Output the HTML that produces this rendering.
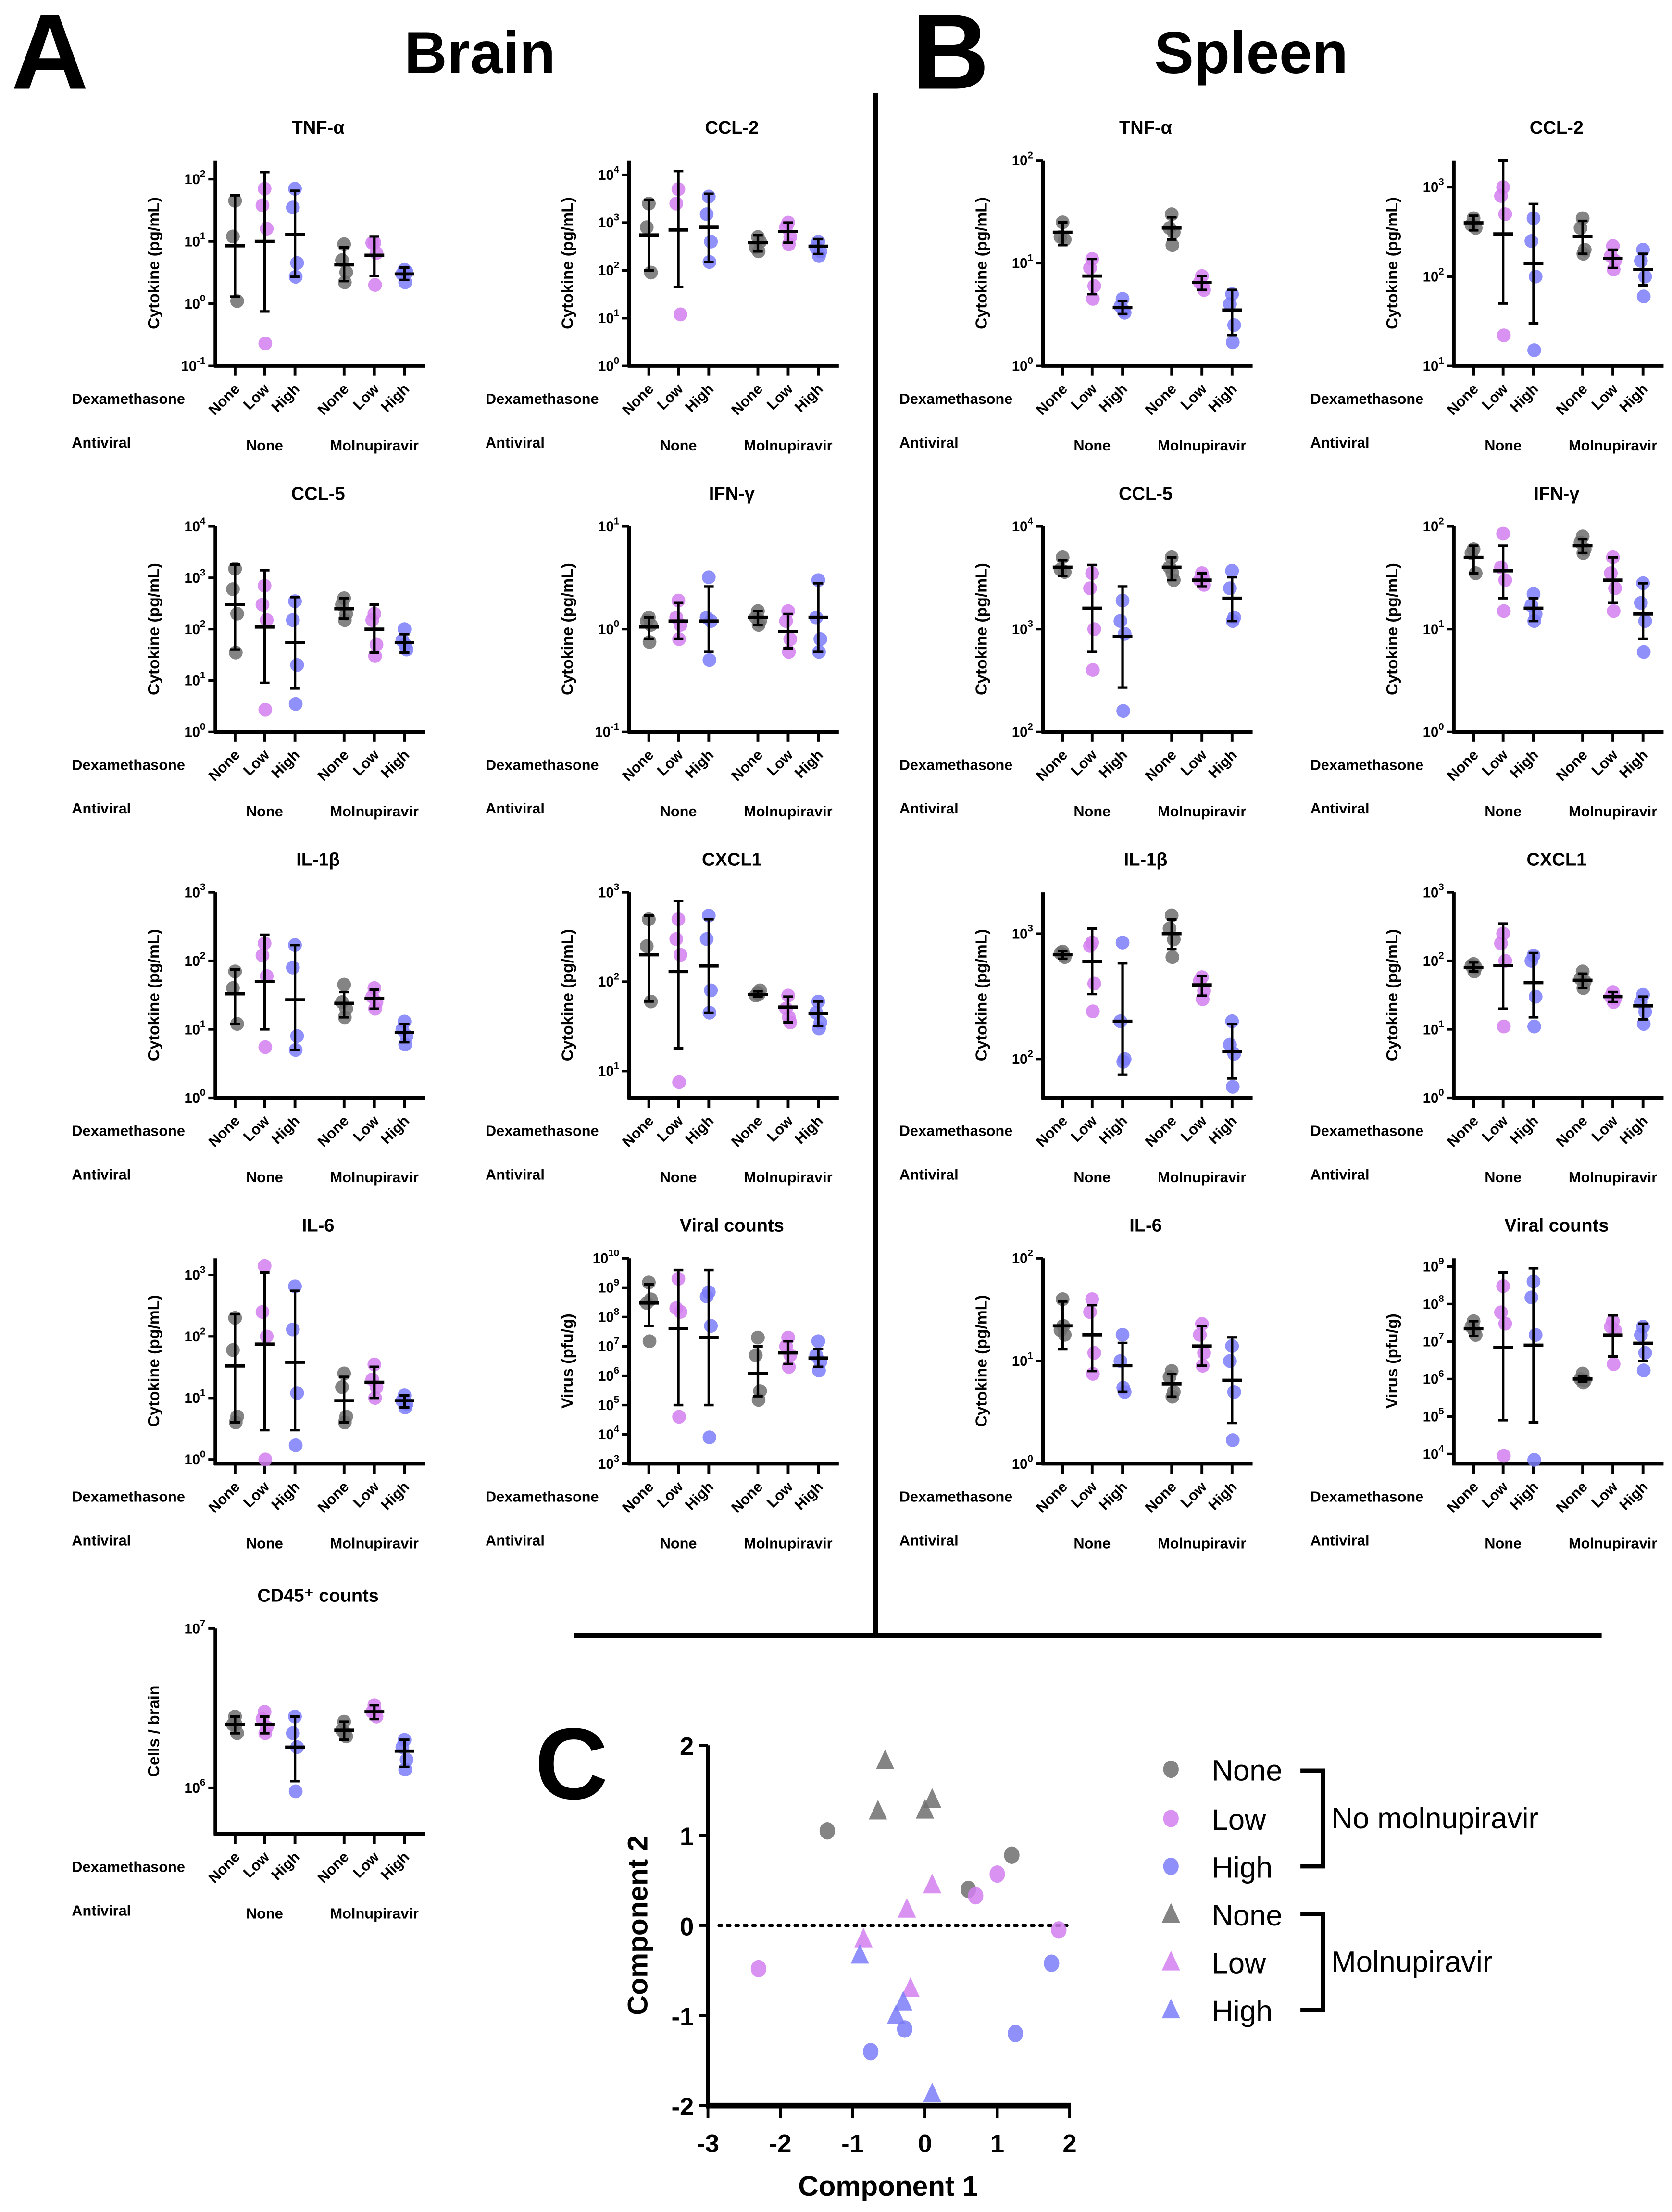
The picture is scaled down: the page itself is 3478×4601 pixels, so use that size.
<!DOCTYPE html>
<html><head><meta charset="utf-8"><style>
html,body{margin:0;padding:0;background:#fff;}
svg{display:block;font-family:"Liberation Sans",Arial,sans-serif;}
</style></head><body>
<svg id="fig" xmlns="http://www.w3.org/2000/svg" width="3478" height="4601" viewBox="0 0 1188 1571.6" preserveAspectRatio="none">
<rect width="1188" height="1571.6" fill="#fff"/>
<text x="8" y="63" font-size="76" font-weight="bold">A</text>
<text x="341" y="52" font-size="42" font-weight="bold" text-anchor="middle">Brain</text>
<text x="648" y="63" font-size="76" font-weight="bold">B</text>
<text x="889" y="52" font-size="42" font-weight="bold" text-anchor="middle">Spleen</text>
<line x1="622" y1="66" x2="622" y2="1163" stroke="#000" stroke-width="4"/>
<line x1="408" y1="1162" x2="1138" y2="1162" stroke="#000" stroke-width="4"/>
<text x="380" y="1278" font-size="72" font-weight="bold">C</text>
<g id="panels"></g>
<g id="pca"></g>
</svg>
<script>
const NS="http://www.w3.org/2000/svg";
// ---- Panel data (values in original units) ----
const panelTitles=["TNF-α","CCL-2","CCL-5","IFN-γ","IL-1β","CXCL1","IL-6","Viral counts","CD45⁺ counts",
"TNF-α","CCL-2","CCL-5","IFN-γ","IL-1β","CXCL1","IL-6","Viral counts"];
const panelYTitles=["Cytokine (pg/mL)","Cytokine (pg/mL)","Cytokine (pg/mL)","Cytokine (pg/mL)","Cytokine (pg/mL)","Cytokine (pg/mL)","Cytokine (pg/mL)","Virus (pfu/g)","Cells / brain",
"Cytokine (pg/mL)","Cytokine (pg/mL)","Cytokine (pg/mL)","Cytokine (pg/mL)","Cytokine (pg/mL)","Cytokine (pg/mL)","Cytokine (pg/mL)","Virus (pfu/g)"];
const panelLo=[-1,0,0,-1,0,0.7,-0.07,3,5.71, 0,1,2,0,1.69,0,0,3.74];
const panelHi=[2.3,4.3,4,1,3,3,3.27,10,7, 2,3.3,4,2,3.33,3,2,9.22];
const panelTicks=[[-1,0,1,2],[0,1,2,3,4],[0,1,2,3,4],[-1,0,1],[0,1,2,3],[1,2,3],[0,1,2,3],[3,4,5,6,7,8,9,10],[6,7],
[0,1,2],[1,2,3],[2,3,4],[0,1,2],[2,3],[0,1,2,3],[0,1,2],[4,5,6,7,8,9]];
const categories=["None","Low","High","None","Low","High"];
const points=[
[[45,12,1.1],[70,38,16,0.23],[70,35,4.5,2.7],[9,5,3.2,2.2],[9.5,9.5,6.5,2],[3.5,3,3.2,2.2]],
[[2500,800,90],[5000,2500,12],[3500,1500,400,150],[500,300,400,250],[1000,800,500,350],[400,300,250,200]],
[[1500,600,200,35],[700,300,150,2.7],[350,150,20,3.5],[400,300,200,150],[200,150,50,30],[100,60,40,50]],
[[1.3,1.2,1.1,0.75],[1.9,1.3,1.1,0.8],[3.2,1.3,1.2,0.5],[1.5,1.3,1.2,1.1],[1.5,1.2,0.8,0.6],[3,1.3,0.8,0.6]],
[[70,40,12],[180,120,60,5.5],[170,80,8,5],[45,25,20,15],[40,30,25,20],[13,10,8,6]],
[[500,250,60],[500,300,200,7.5],[550,300,80,45],[75,70,80,72],[70,50,35,40],[60,45,35,30]],
[[200,60,5,4],[1400,250,100,1],[650,130,12,1.7],[25,15,5,4],[35,20,15,10],[11,9,8,7]],
[[1.5e9,3e8,4e8,1.5e7],[2e9,2e8,1.5e8,4e4],[7e8,5e8,5e7,8e3],[2e7,5e6,3e5,1.5e5],[2e7,1e7,5e6,2e6],[1.5e7,5e6,3e6,1.5e6]],
[[2.8e6,2.5e6,2.2e6,2.5e6],[3e6,2.7e6,2.4e6,2.2e6],[2.8e6,2.2e6,1.8e6,0.95e6],[2.6e6,2.3e6,2.1e6,2.2e6],[3.3e6,3e6,2.8e6,3e6],[2e6,1.8e6,1.5e6,1.3e6]],
[[25,18,17],[11,9,6,4.5],[4.5,3.8,3.3,3.5],[30,22,20,15],[7.5,6.5,5.5,6],[5,4,2.5,1.7]],
[[450,380,350],[1000,800,500,22],[450,250,100,15],[450,350,200,180],[220,170,150,120],[200,150,100,60]],
[[5000,3800,3600],[3500,2500,1000,400],[1900,1200,900,160],[5000,4000,3000,3500],[3500,3000,2700,3200],[3700,2500,1300,1200]],
[[60,55,35],[85,40,30,15],[22,17,14,12],[80,70,60,55],[50,35,25,15],[28,18,12,6]],
[[720,700,650,680],[850,800,400,240],[850,200,100,95],[1400,1100,900,650],[450,420,350,300],[200,130,110,60]],
[[90,85,80,70],[250,180,100,11],[120,100,30,11],[70,55,50,40],[35,30,28,25],[32,25,18,12]],
[[40,20,18,22],[40,30,12,7.5],[18,10,5,5.5],[8,7,5,4.5],[23,18,12,9],[14,10,5,1.7]],
[[3.5e7,2.5e7,1.5e7,2e7],[3e8,6e7,3e7,9e3],[4e8,1.5e8,1.5e7,7e3],[1.4e6,1e6,9e5,8e5],[3.5e7,2.5e7,2e7,2.5e6],[2.5e7,1.5e7,5e6,1.7e6]]
];
const means=[
[8.5,10,13,4.2,6,3],[550,700,800,380,650,320],[300,110,55,250,100,55],[1.05,1.2,1.2,1.3,0.95,1.3],
[33,50,27,24,28,9],[200,130,150,72,52,44],[33,75,38,9,18,9],[3e8,4e7,2e7,1.2e6,6e6,4e6],
[2.5e6,2.5e6,1.8e6,2.3e6,3e6,1.7e6],
[20,7.5,3.7,22,6.5,3.5],[400,300,140,280,160,120],[4000,1600,850,4000,3000,2000],[50,37,16,65,30,14],
[680,600,200,1000,390,115],[80,85,48,52,30,22],[22,18,9,6,14,6.5],[2.2e7,7e6,8e6,1e6,1.5e7,9e6]
];
const errLow=[
[1.3,0.75,2.7,2.3,2.8,2.4],[100,45,150,250,380,220],[40,9,7,160,35,35],[0.8,0.8,0.6,1.1,0.65,0.6],
[12,10,5,15,20,6.5],[60,18,45,68,35,32],[4,3,3,4,10,7],[5e7,1e5,1e5,2e5,2.5e6,2e6],
[2.2e6,2.2e6,1.1e6,2e6,2.7e6,1.35e6],
[15,5,3.2,17,5.5,2],[330,50,30,180,125,80],[3300,600,270,3000,2600,1200],[35,20,12,55,18,8],
[630,330,75,750,320,70],[70,20,15,40,25,14],[13,8,5,4.5,9,2.5],[1.4e7,8e4,7e4,8.5e5,4e6,3e6]
];
const errHigh=[
[55,130,65,8,12,3.8],[3000,12000,4000,550,1000,450],[1800,1400,420,400,300,80],[1.3,1.8,2.6,1.5,1.4,2.8],
[75,240,170,35,38,12],[550,800,500,78,68,60],[230,1100,550,22,32,11],[1.3e9,4e9,4e9,1e7,1.5e7,8e6],
[2.8e6,2.8e6,2.8e6,2.6e6,3.3e6,2e6],
[25,11,4.3,28,7.5,5.5],[480,2000,650,420,200,180],[4700,4200,2600,5000,3500,3200],[65,65,20,75,50,28],
[730,1100,580,1300,460,190],[95,350,130,65,35,30],[38,35,15,7.5,22,17],[3.5e7,7e8,9e8,1.2e6,5e7,3e7]
];
// ---- layout (styles/positions, not data) ----
const colX=[153,447,741,1033];
const rowY=[0,260,520,780,1043];
const panelPos=[[0,0],[1,0],[0,1],[1,1],[0,2],[1,2],[0,3],[1,3],[0,4],[2,0],[3,0],[2,1],[3,1],[2,2],[3,2],[2,3],[3,3]];
const catOff=[14,35,56.6,91.5,113,134.4];
const colors=["#6f6f6f","#d47ff0","#7b7cf8"];
const jit=[0,-1.5,1.5,0.5];
const P=document.getElementById('panels');
function mk(tag,attrs,parent){const e=document.createElementNS(NS,tag);for(const k in attrs)e.setAttribute(k,attrs[k]);(parent||P).appendChild(e);return e;}
const TOP=114,BOT=260;
panelTitles.forEach((title,p)=>{
  const ax=colX[panelPos[p][0]], oy=rowY[panelPos[p][1]];
  const lo=panelLo[p],hi=panelHi[p];
  const yS=v=>oy+BOT-(Math.log10(v)-lo)/(hi-lo)*(BOT-TOP);
  const yE=e=>oy+BOT-(e-lo)/(hi-lo)*(BOT-TOP);
  const g=mk('g',{});
  
  
  const t=mk('text',{x:ax+73,y:oy+95,'font-size':13,'font-weight':'bold','text-anchor':'middle'},g);t.textContent=title;
  
  
  const yt=mk('text',{transform:`translate(${ax-40},${oy+(TOP+BOT)/2}) rotate(-90)`,'font-size':11.5,'font-weight':'bold','text-anchor':'middle'},g);yt.textContent=panelYTitles[p];
  
  
  const ya=mk('line',{x1:ax,y1:oy+TOP,x2:ax,y2:oy+BOT+1,stroke:'#000','stroke-width':2.5},g);
  
  
  const xa=mk('line',{x1:ax-1,y1:oy+BOT,x2:ax+149,y2:oy+BOT,stroke:'#000','stroke-width':2.5},g);
  
  
  panelTicks[p].forEach(e=>{
    const y=yE(e);
    const tk=mk('line',{x1:ax-5,y1:y,x2:ax,y2:y,stroke:'#000','stroke-width':1.8},g);
    
    
    const tl=mk('text',{x:ax-7,y:y+3.5,'font-size':10,'font-weight':'bold','text-anchor':'end'},g);
    
    
    tl.innerHTML='10<tspan dy="-5" font-size="7">'+e+'</tspan>';
  });
  categories.forEach((c,i)=>{
    const cx=ax+catOff[i];
    const tk=mk('line',{x1:cx,y1:oy+BOT,x2:cx,y2:oy+BOT+7,stroke:'#000','stroke-width':2},g);
    
    
    const cl=mk('text',{transform:`translate(${cx+4},${oy+BOT+17}) rotate(-45)`,'font-size':10.5,'font-weight':'bold','text-anchor':'end'},g);cl.textContent=c;
    
    
    points[p][i].forEach((v,k)=>{
      const d=mk('circle',{cx:cx+jit[k],cy:yS(v),r:4.9,fill:colors[i%3],'fill-opacity':0.85},g);
      
      
    });
    const eb=mk('path',{d:`M${cx},${yS(errLow[p][i])}V${yS(errHigh[p][i])}M${cx-3.5},${yS(errLow[p][i])}H${cx+3.5}M${cx-3.5},${yS(errHigh[p][i])}H${cx+3.5}`,stroke:'#000','stroke-width':1.8,fill:'none'},g);
    
    
    const mb=mk('line',{x1:cx-7,y1:yS(means[p][i]),x2:cx+7,y2:yS(means[p][i]),stroke:'#000','stroke-width':2.3},g);
    
    
  });
  const dx=mk('text',{x:ax-102,y:oy+BOT+27,'font-size':10.5,'font-weight':'bold'},g);dx.textContent='Dexamethasone';
  
  
  const av=mk('text',{x:ax-102,y:oy+BOT+58,'font-size':10.5,'font-weight':'bold'},g);av.textContent='Antiviral';
  
  
  const an=mk('text',{x:ax+catOff[1],y:oy+BOT+60,'font-size':10.5,'font-weight':'bold','text-anchor':'middle'},g);an.textContent='None';
  
  
  const am=mk('text',{x:ax+catOff[4],y:oy+BOT+60,'font-size':10.5,'font-weight':'bold','text-anchor':'middle'},g);am.textContent='Molnupiravir';
  
  
});

// ---- PCA scatter ----
const pcaX=[-1.35,0.6,1.2,-2.3,0.7,1.0,1.85,-0.75,-0.28,1.25,1.75,-0.55,-0.65,0,0.1,-0.85,-0.25,-0.2,0.1,-0.9,-0.3,-0.4,0.1];
const pcaY=[1.05,0.4,0.78,-0.48,0.33,0.57,-0.05,-1.4,-1.15,-1.2,-0.42,1.83,1.27,1.28,1.4,-0.15,0.18,-0.7,0.45,-0.33,-0.85,-1.0,-1.87];
const pcaDose=[0,0,0,1,1,1,1,2,2,2,2,0,0,0,0,1,1,1,1,2,2,2,2];
const pcaShape=["c","c","c","c","c","c","c","c","c","c","c","t","t","t","t","t","t","t","t","t","t","t","t"];
const xTicks=[-3,-2,-1,0,1,2];
const yTicks=[-2,-1,0,1,2];
const legendLabels=["None","Low","High","None","Low","High"];
const G=document.getElementById('pca');
const X0=503,X1=760,Y0=1496,Y1=1240;
const px=v=>X0+(v+3)/5*(X1-X0);
const py=v=>Y0-(v+2)/4*(Y0-Y1);
let e;
e=mk('line',{x1:X0,y1:Y1,x2:X0,y2:Y0+2,stroke:'#000','stroke-width':2.5},G);


e=mk('line',{x1:X0-1,y1:Y0,x2:X1+1,y2:Y0,stroke:'#000','stroke-width':4},G);


e=mk('line',{x1:X0+8,y1:py(0),x2:X1-2,y2:py(0),stroke:'#000','stroke-width':2.5,'stroke-dasharray':'1.5 4.5','stroke-linecap':'round'},G);


xTicks.forEach(v=>{
  e=mk('line',{x1:px(v),y1:Y0,x2:px(v),y2:Y0+9,stroke:'#000','stroke-width':2},G);
  
  
  e=mk('text',{x:px(v),y:Y0+33,'font-size':18,'font-weight':'bold','text-anchor':'middle'},G);e.textContent=v;
  
  
});
yTicks.forEach(v=>{
  e=mk('line',{x1:X0-6,y1:py(v),x2:X0,y2:py(v),stroke:'#000','stroke-width':2},G);
  
  
  e=mk('text',{x:X0-10,y:py(v)+7,'font-size':18,'font-weight':'bold','text-anchor':'end'},G);e.textContent=v;
  
  
});
e=mk('text',{x:631,y:1560,'font-size':20,'font-weight':'bold','text-anchor':'middle'},G);e.textContent='Component 1';


e=mk('text',{transform:`translate(460,1368) rotate(-90)`,'font-size':20,'font-weight':'bold','text-anchor':'middle'},G);e.textContent='Component 2';


function marker(shape,x,y,col){
  if(shape==='c') return mk('ellipse',{cx:x,cy:y,rx:5.5,ry:6.2,fill:col,'fill-opacity':0.85},G);
  return mk('path',{d:`M${x},${y-8}L${x+6.5},${y+6}L${x-6.5},${y+6}Z`,fill:col,'fill-opacity':0.85},G);
}
pcaX.forEach((v,i)=>{
  const m=marker(pcaShape[i],px(v),py(pcaY[i]),colors[pcaDose[i]]);
  
  
});
const legY=[1257,1292,1326,1360,1394,1428];
legendLabels.forEach((l,i)=>{
  const m=marker(i<3?'c':'t',832,legY[i],colors[i%3]);
  
  
  const tx=mk('text',{x:861,y:legY[i]+8,'font-size':21},G);tx.textContent=l;
  
  
});
e=mk('path',{d:'M924,1258H940V1326H924',stroke:'#000','stroke-width':3,fill:'none'},G);


e=mk('path',{d:'M924,1360H940V1428H924',stroke:'#000','stroke-width':3,fill:'none'},G);


e=mk('text',{x:946,y:1299,'font-size':21},G);e.textContent='No molnupiravir';


e=mk('text',{x:946,y:1401,'font-size':21},G);e.textContent='Molnupiravir';


</script>
</body></html>
